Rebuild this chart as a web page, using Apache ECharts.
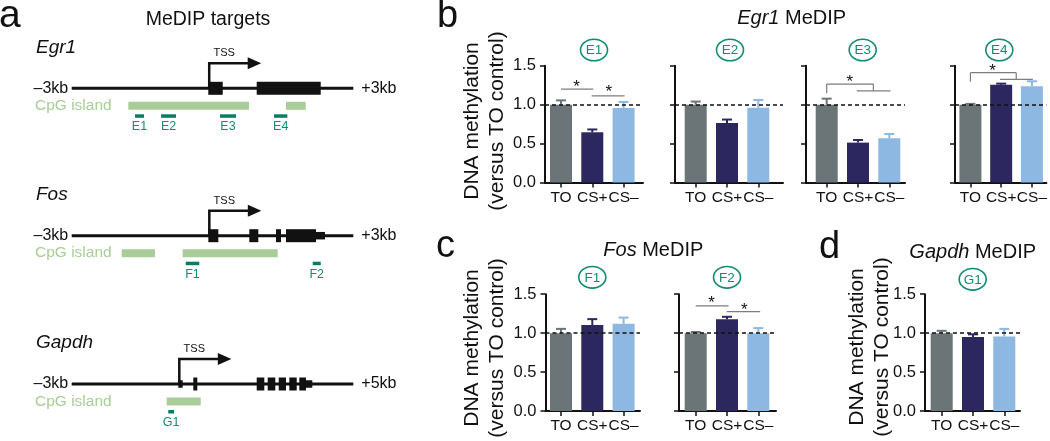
<!DOCTYPE html>
<html><head><meta charset="utf-8">
<script src="https://cdn.jsdelivr.net/npm/echarts@6/dist/echarts.min.js"></script>
<style>html,body{margin:0;padding:0;background:#fff}#c{width:1050px;height:441px}</style>
</head><body><div id="c"></div>
<script>
// ================= DATA =================
const groups = ['TO', 'CS+', 'CS–'];

const E1_mean = [1.00, 0.645, 0.957];
const E1_sem  = [0.055, 0.037, 0.078];
const E2_mean = [1.00, 0.764, 0.960];
const E2_sem  = [0.040, 0.045, 0.100];
const E3_mean = [1.00, 0.513, 0.569];
const E3_sem  = [0.077, 0.034, 0.055];
const E4_mean = [1.00, 1.255, 1.235];
const E4_sem  = [0.010, 0.015, 0.065];
const F1_mean = [1.00, 1.105, 1.120];
const F1_sem  = [0.055, 0.075, 0.080];
const F2_mean = [1.00, 1.180, 1.000];
const F2_sem  = [0.015, 0.030, 0.065];
const G1_mean = [1.00, 0.950, 0.957];
const G1_sem  = [0.030, 0.035, 0.098];

// significance segments [x1, y1, x2, y2] in (group index, value) and star marks [x, y]
const E1_sig  = [[0, 1.20, 1.03, 1.20], [0.98, 1.114, 2.03, 1.114]];
const E1_star = [[0.50, 1.273], [1.53, 1.20]];
const E3_sig  = [[0, 1.145, 0, 1.264], [0, 1.264, 1.49, 1.264], [1.49, 1.264, 1.49, 1.178], [0.96, 1.178, 2.04, 1.178]];
const E3_star = [[0.74, 1.337]];
const E4_sig  = [[0, 1.294, 0, 1.41], [0, 1.41, 1.49, 1.41], [1.49, 1.41, 1.49, 1.325], [0.96, 1.325, 2.03, 1.325]];
const E4_star = [[0.72, 1.474]];
const F2_sig  = [[0, 1.35, 1.05, 1.35], [0.99, 1.276, 2.06, 1.276]];
const F2_star = [[0.51, 1.425], [1.55, 1.34]];

// gene models (kb relative to TSS)
const egr1Span = [-3, 3];
const egr1Ends = ['–3kb', '+3kb'];
const egr1Exons = [[-0.09, 0.218], [0.942, 2.306]];
const egr1Utr = [];
const egr1Tss = [-0.07];
const egr1Cpg = [[-1.794, 0.778], [1.566, 1.986]];
const egr1Targets = [[-1.651, -1.459], [-1.097, -0.777], [0.160, 0.501], [1.311, 1.595]];
const egr1TargetNames = ['E1', 'E2', 'E3', 'E4'];

const fosSpan = [-3, 3];
const fosEnds = ['–3kb', '+3kb'];
const fosExons = [[-0.089, 0.124], [0.784, 0.976], [1.353, 1.460], [1.566, 2.205]];
const fosUtr = [[2.205, 2.397]];
const fosTss = [-0.068];
const fosCpg = [[-1.935, -1.225], [-0.635, 1.389]];
const fosTargets = [[-0.571, -0.281], [2.135, 2.306]];
const fosTargetNames = ['F1', 'F2'];

const gapdhSpan = [-3, 5];
const gapdhEnds = ['–3kb', '+5kb'];
const gapdhExons = [[0.455, 0.568], [2.256, 2.472], [2.568, 2.784], [2.881, 3.088], [3.182, 3.392], [3.466, 3.656]];
const gapdhUtr = [[0.028, 0.153], [3.656, 3.835]];
const gapdhTss = [0.057];
const gapdhCpg = [[-0.301, 0.665]];
const gapdhTargets = [[-0.256, -0.094]];
const gapdhTargetNames = ['G1'];

// ================= STYLE / LAYOUT =================
const FF = '"Liberation Sans", Arial, Helvetica, sans-serif';
const COLORS = ['#6b7476', '#2c285f', '#8cb8e2'];
const TEAL = '#138a72';
const TEAL_DARK = '#0d7a64';
const CPG = '#a9cd98';
const INK = '#111';
const STEP = 31.3;

const charts = [
  {mean: E1_mean, sem: E1_sem, sig: E1_sig, star: E1_star, L: {axisX: 545, c0: 561, endX: 643, top: 65.7}, labels: true},
  {mean: E2_mean, sem: E2_sem, sig: [], star: [], L: {axisX: 675, c0: 695.7, endX: 783, top: 65.7}, labels: false},
  {mean: E3_mean, sem: E3_sem, sig: E3_sig, star: E3_star, L: {axisX: 806, c0: 826.7, endX: 905, top: 65.7}, labels: false},
  {mean: E4_mean, sem: E4_sem, sig: E4_sig, star: E4_star, L: {axisX: 955, c0: 970.7, endX: 1048, top: 65.7}, labels: false},
  {mean: F1_mean, sem: F1_sem, sig: [], star: [], L: {axisX: 545.5, c0: 561, endX: 640, top: 294.2}, labels: true},
  {mean: F2_mean, sem: F2_sem, sig: F2_sig, star: F2_star, L: {axisX: 679, c0: 695.7, endX: 776, top: 294.2}, labels: false},
  {mean: G1_mean, sem: G1_sem, sig: [], star: [], L: {axisX: 925, c0: 941.7, endX: 1020, top: 294.2}, labels: true}
];
const CH_H = 116.9;

const genes = [
  {span: egr1Span, ends: egr1Ends, exons: egr1Exons, utr: egr1Utr, tss: egr1Tss, cpg: egr1Cpg, targets: egr1Targets, names: egr1TargetNames, lineY: 88.3, title: 'Egr1'},
  {span: fosSpan, ends: fosEnds, exons: fosExons, utr: fosUtr, tss: fosTss, cpg: fosCpg, targets: fosTargets, names: fosTargetNames, lineY: 235.7, title: 'Fos'},
  {span: gapdhSpan, ends: gapdhEnds, exons: gapdhExons, utr: gapdhUtr, tss: gapdhTss, cpg: gapdhCpg, targets: gapdhTargets, names: gapdhTargetNames, lineY: 384, title: 'Gapdh'}
];
const GENE_LEFT = 71.7, GENE_W = 281.6;

// ================= BUILD =================
const grid = [], xAxis = [], yAxis = [], series = [];

function rectRender(dy, h, color) {
  return function (params, api) {
    const a = api.coord([api.value(0), 0]), b = api.coord([api.value(1), 0]);
    return {type: 'rect', shape: {x: a[0], y: a[1] + dy - h / 2, width: b[0] - a[0], height: h}, style: {fill: color}};
  };
}

genes.forEach((g, gi) => {
  grid.push({left: GENE_LEFT, width: GENE_W, top: g.lineY - 20, height: 40});
  xAxis.push({gridIndex: gi, type: 'value', min: g.span[0], max: g.span[1], show: false});
  yAxis.push({gridIndex: gi, type: 'value', min: -1, max: 1, show: false});
  const base = {type: 'custom', xAxisIndex: gi, yAxisIndex: gi, silent: true, clip: false};
  series.push(Object.assign({}, base, {
    data: [[g.span[0], g.span[1]]],
    renderItem: (params, api) => {
      const a = api.coord([api.value(0), 0]), b = api.coord([api.value(1), 0]);
      return {type: 'group', children: [
        {type: 'line', shape: {x1: a[0], y1: a[1], x2: b[0], y2: b[1]}, style: {stroke: INK, lineWidth: 3}},
        {type: 'text', style: {text: g.ends[0], x: a[0] - 3.5, y: a[1], align: 'right', verticalAlign: 'middle', fontSize: 16, fontFamily: FF, fill: INK}},
        {type: 'text', style: {text: g.ends[1], x: b[0] + 8, y: b[1], align: 'left', verticalAlign: 'middle', fontSize: 16, fontFamily: FF, fill: INK}}
      ]};
    }
  }));
  series.push(Object.assign({}, base, {data: g.exons, renderItem: rectRender(0, 13, INK)}));
  if (g.utr.length) series.push(Object.assign({}, base, {data: g.utr, renderItem: rectRender(0, 7.5, INK)}));
  series.push(Object.assign({}, base, {data: g.cpg, renderItem: rectRender(17.5, 8, CPG)}));
  series.push(Object.assign({}, base, {
    data: g.targets,
    renderItem: (params, api) => {
      const a = api.coord([api.value(0), 0]), b = api.coord([api.value(1), 0]);
      return {type: 'group', children: [
        {type: 'rect', shape: {x: a[0], y: a[1] + 26, width: b[0] - a[0], height: 3.5}, style: {fill: TEAL_DARK}},
        {type: 'text', style: {text: g.names[params.dataIndex], x: (a[0] + b[0]) / 2, y: a[1] + 38.5, align: 'center', verticalAlign: 'middle', fontSize: 12.5, fontFamily: FF, fill: TEAL}}
      ]};
    }
  }));
  series.push(Object.assign({}, base, {
    data: g.tss.map(v => [v]),
    renderItem: (params, api) => {
      const p = api.coord([api.value(0), 0]);
      const x = p[0], y = p[1];
      return {type: 'group', children: [
        {type: 'polyline', shape: {points: [[x, y], [x, y - 25], [x + 40, y - 25]]}, style: {stroke: INK, lineWidth: 2.5, fill: null}},
        {type: 'polygon', shape: {points: [[x + 38.5, y - 31], [x + 52, y - 25], [x + 38.5, y - 19]]}, style: {fill: INK}},
        {type: 'text', style: {text: 'TSS', x: x + 15, y: y - 35, align: 'center', verticalAlign: 'middle', fontSize: 11, fontFamily: FF, fill: INK}}
      ]};
    }
  }));
});

charts.forEach((c, ci) => {
  const gi = genes.length + ci;
  const L = c.L;
  grid.push({left: L.axisX, top: L.top, width: L.endX - L.axisX, height: CH_H});
  xAxis.push({
    gridIndex: gi, type: 'value',
    min: (L.axisX - L.c0) / STEP, max: (L.endX - L.c0) / STEP,
    axisLine: {show: true, onZero: false, lineStyle: {color: INK, width: 2}},
    axisTick: {show: true, customValues: [0, 1, 2], length: 5, lineStyle: {color: INK, width: 1.5}},
    axisLabel: {show: true, customValues: [0, 1, 2], formatter: v => groups[Math.round(v)],
      fontSize: 15.5, fontFamily: FF, color: INK, margin: 7,
      showMinLabel: true, showMaxLabel: true, hideOverlap: false},
    splitLine: {show: false}
  });
  yAxis.push({
    gridIndex: gi, type: 'value', min: 0, max: 1.5, interval: 0.5,
    axisLine: {show: true, onZero: false, lineStyle: {color: INK, width: 2}},
    axisTick: {show: true, length: 5, lineStyle: {color: INK, width: 1.5}},
    axisLabel: {show: c.labels, formatter: v => v.toFixed(1), fontSize: 16.5, fontFamily: FF, color: INK, margin: 9},
    splitLine: {show: false}
  });
  series.push({
    type: 'bar', xAxisIndex: gi, yAxisIndex: gi, barWidth: 22, silent: true, z: 2,
    data: c.mean.map((v, i) => ({value: [i, v], itemStyle: {color: COLORS[i]}}))
  });
  series.push({
    type: 'custom', xAxisIndex: gi, yAxisIndex: gi, silent: true, z: 3,
    data: c.mean.map((v, i) => [i, v, c.sem[i]]),
    renderItem: (params, api) => {
      const x = api.value(0), m = api.value(1), e = api.value(2);
      const p1 = api.coord([x, m]), p2 = api.coord([x, m + e]);
      const col = COLORS[params.dataIndex];
      return {type: 'group', children: [
        {type: 'line', shape: {x1: p1[0], y1: p1[1], x2: p2[0], y2: p2[1]}, style: {stroke: col, lineWidth: 2}},
        {type: 'line', shape: {x1: p2[0] - 5, y1: p2[1], x2: p2[0] + 5, y2: p2[1]}, style: {stroke: col, lineWidth: 2}}
      ]};
    },
    markLine: {silent: true, symbol: ['none', 'none'], label: {show: false}, z: 6,
      lineStyle: {type: [4, 3], color: INK, width: 1.5}, data: [{yAxis: 1}]}
  });
  if (c.sig.length) series.push({
    type: 'custom', xAxisIndex: gi, yAxisIndex: gi, silent: true, clip: false, z: 4,
    data: c.sig,
    renderItem: (params, api) => {
      const a = api.coord([api.value(0), api.value(1)]), b = api.coord([api.value(2), api.value(3)]);
      return {type: 'line', shape: {x1: a[0], y1: a[1], x2: b[0], y2: b[1]}, style: {stroke: '#7d7d7d', lineWidth: 1.2}};
    }
  });
  if (c.star.length) series.push({
    type: 'custom', xAxisIndex: gi, yAxisIndex: gi, silent: true, clip: false, z: 4,
    data: c.star,
    renderItem: (params, api) => {
      const p = api.coord([api.value(0), api.value(1)]);
      return {type: 'text', style: {text: '*', x: p[0], y: p[1] + 3.5, align: 'center', verticalAlign: 'middle', fontSize: 17, fontFamily: FF, fill: INK}};
    }
  });
});

// ================= ANNOTATION TEXT =================
function txt(text, x, y, size, opts) {
  return {type: 'text', silent: true, x: x, y: y, rotation: (opts && opts.rot) || 0,
    style: Object.assign({text: text, x: 0, y: 0, fontSize: size, fontFamily: FF, fill: INK,
      align: 'center', verticalAlign: 'middle'}, (opts && opts.style) || {})};
}
const graphic = [];
graphic.push(txt('a', -1, 16, 39, {style: {align: 'left'}}));
graphic.push(txt('b', 437, 17, 38, {style: {align: 'left'}}));
graphic.push(txt('c', 436, 246.5, 38, {style: {align: 'left'}}));
graphic.push(txt('d', 819, 248, 38, {style: {align: 'left'}}));
graphic.push(txt('MeDIP targets', 208, 19.5, 19.5));
genes.forEach(g => {
  graphic.push(txt(g.title, 36, g.lineY - 41, 19, {style: {align: 'left', fontStyle: 'italic'}}));
  graphic.push(txt('CpG island', 35, g.lineY + 17.5, 15.5, {style: {align: 'left', fill: CPG}}));
});
const rich = {i: {fontStyle: 'italic', fontSize: 20, fontFamily: FF, fill: INK}, n: {fontSize: 20, fontFamily: FF, fill: INK}};
graphic.push(txt('{i|Egr1}{n| MeDIP}', 791.7, 18.5, 20, {style: {rich: rich}}));
graphic.push(txt('{i|Fos}{n| MeDIP}', 653.3, 250.3, 20, {style: {rich: rich}}));
graphic.push(txt('{i|Gapdh}{n| MeDIP}', 972.7, 252.7, 20, {style: {rich: rich}}));
const yTitle = 'DNA methylation\n(versus TO control)';
graphic.push(txt(yTitle, 484.5, 121, 21, {rot: Math.PI / 2, style: {lineHeight: 25}}));
graphic.push(txt(yTitle, 484.5, 348, 21, {rot: Math.PI / 2, style: {lineHeight: 25}}));
graphic.push(txt(yTitle, 869.8, 347, 21, {rot: Math.PI / 2, style: {lineHeight: 25.5}}));
[['E1', 594, 50], ['E2', 730, 50], ['E3', 862.7, 50], ['E4', 999.3, 50],
 ['F1', 592.3, 277.3], ['F2', 727, 277.3], ['G1', 972.7, 279.3]].forEach(d => {
  graphic.push({type: 'ellipse', silent: true, shape: {cx: d[1], cy: d[2], rx: 13.5, ry: 10.8}, style: {fill: 'none', stroke: TEAL, lineWidth: 1.6}});
  graphic.push(txt(d[0], d[1], d[2] + 0.5, 13.5, {style: {fill: TEAL}}));
});

const chart = echarts.init(document.getElementById('c'), null, {renderer: 'canvas'});
chart.setOption({
  backgroundColor: '#fff',
  animation: false,
  grid: grid, xAxis: xAxis, yAxis: yAxis, series: series,
  graphic: graphic
});
</script></body></html>
